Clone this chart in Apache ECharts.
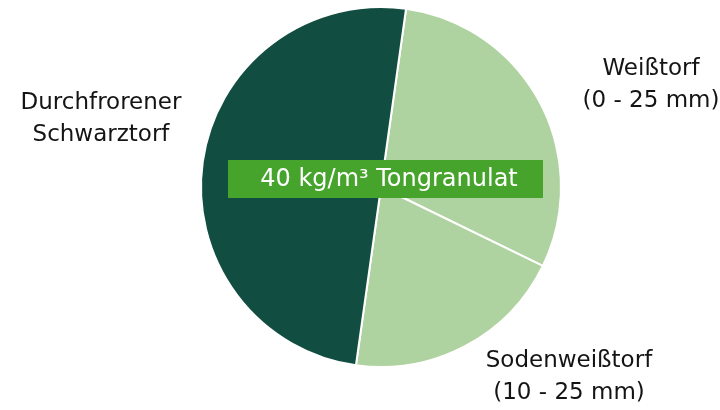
<!DOCTYPE html>
<html>
<head>
<meta charset="utf-8">
<script src="https://cdn.jsdelivr.net/npm/echarts@6/dist/echarts.min.js"></script>
<style>
  html, body { margin: 0; padding: 0; background: #fff; }
  #chart { width: 720px; height: 410px; }
</style>
</head>
<body>
<div id="chart"></div>
<script>
var categories = ['Weißtorf\n(0 - 25 mm)', 'Sodenweißtorf\n(10 - 25 mm)', 'Durchfrorener\nSchwarztorf'];
var values = [30, 20, 50];
var colors = ['#afd3a0', '#afd3a0', '#114d40'];
var boxText = '40 kg/m³ Tongranulat';

// label anchor spots (center of each text block)
var labelSpots = [[651, 85], [569, 377], [101, 119]];

var myChart = echarts.init(document.getElementById('chart'));
var font = 'DejaVu Sans';

myChart.setOption({
  animation: false,
  series: [{
    type: 'pie',
    center: [381, 187],
    radius: [0, 180],
    startAngle: 82,
    clockwise: true,
    itemStyle: { borderColor: '#fff', borderWidth: 2 },
    label: {
      show: true,
      position: 'outside',
      color: '#141414',
      fontFamily: font,
      fontSize: 23,
      lineHeight: 32,
      align: 'center',
      overflow: 'none',
      width: 300
    },
    labelLine: { show: false },
    labelLayout: function (p) {
      var s = labelSpots[p.dataIndex];
      return { x: s[0], y: s[1], align: 'center', verticalAlign: 'middle' };
    },
    data: categories.map(function (c, i) {
      return { name: c, value: values[i], itemStyle: { color: colors[i] } };
    })
  }],
  graphic: [{
    type: 'rect',
    z: 100,
    shape: { x: 228, y: 160, width: 315, height: 38 },
    style: { fill: '#46a32b' }
  }, {
    type: 'text',
    z: 101,
    x: 389, y: 180,
    style: {
      text: boxText,
      fill: '#fff',
      font: '24px "DejaVu Sans"',
      align: 'center',
      verticalAlign: 'middle'
    }
  }]
});
</script>
</body>
</html>
